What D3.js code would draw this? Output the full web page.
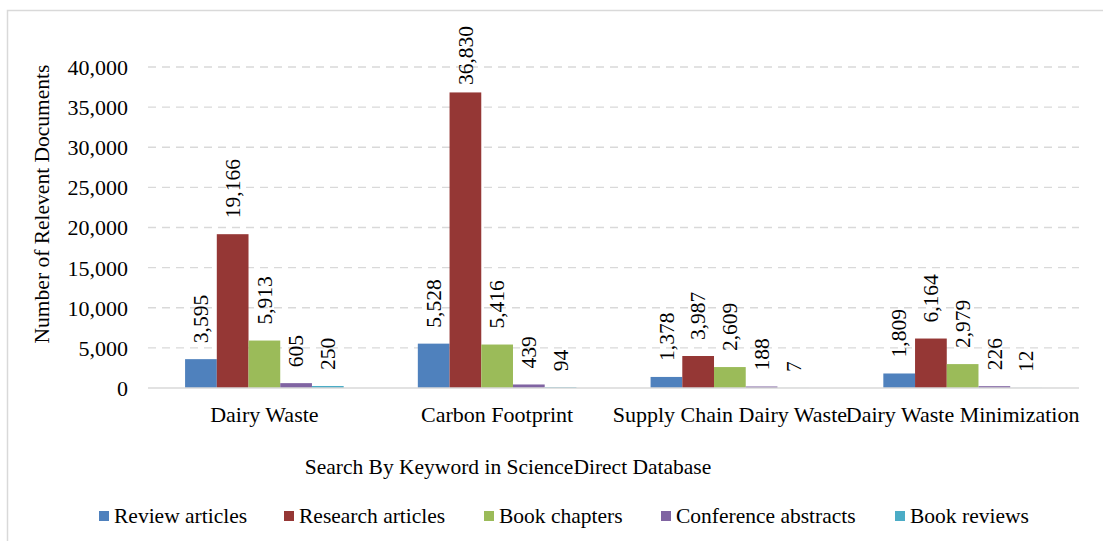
<!DOCTYPE html>
<html>
<head>
<meta charset="utf-8">
<script src="https://cdn.jsdelivr.net/npm/d3@7"></script>
<style>
  html, body { margin: 0; padding: 0; background: #fff; }
  svg text { font-family: "Liberation Serif", "Times New Roman", serif; fill: #000; }
</style>
</head>
<body>
<svg id="chart" width="1103" height="541"></svg>
<script>
// Keyword searches run against ScienceDirect
const categories = ["Dairy Waste", "Carbon Footprint", "Supply Chain Dairy Waste", "Dairy Waste Minimization"];
const seriesNames = ["Review articles", "Research articles", "Book chapters", "Conference abstracts", "Book reviews"];
const seriesColors = ["#4f81bd", "#953735", "#9bbb59", "#8064a2", "#4bacc6"];

// Document counts per category, one array per document type
const reviewArticles = [3595, 5528, 1378, 1809];
const researchArticles = [19166, 36830, 3987, 6164];
const bookChapters = [5913, 5416, 2609, 2979];
const conferenceAbstracts = [605, 439, 188, 226];
const bookReviews = [250, 94, 7, 12];

const yTicks = [0, 5000, 10000, 15000, 20000, 25000, 30000, 35000, 40000];

const seriesValues = [reviewArticles, researchArticles, bookChapters, conferenceAbstracts, bookReviews];

const svg = d3.select("#chart");
const W = 1103, H = 541;
const plot = { left: 148, right: 1079, top: 67, bottom: 388 };
const fontSize = 21.5;
const tickFontSize = 22;

// Outer frame (left and top edges visible)
svg.append("path")
  .attr("d", `M7.5,${H} L7.5,10.5 L${W},10.5`)
  .attr("fill", "none")
  .attr("stroke", "#d9d9d9")
  .attr("stroke-width", 1.5);

const y = d3.scaleLinear().domain([0, 40000]).range([plot.bottom, plot.top]);
const x0 = d3.scaleBand().domain(categories).range([plot.left, plot.right]).padding(0);
const groupWidth = x0.bandwidth() * 0.6814;
const x1 = d3.scaleBand().domain(seriesNames).range([0, groupWidth]).padding(0);
const groupOffset = (x0.bandwidth() - groupWidth) / 2;

const fmt = d3.format(",");

// Dashed gridlines
svg.append("g")
  .selectAll("line")
  .data(yTicks.filter(t => t > 0))
  .join("line")
  .attr("x1", plot.left).attr("x2", plot.right)
  .attr("y1", d => y(d)).attr("y2", d => y(d))
  .attr("stroke", "#d9d9d9")
  .attr("stroke-width", 1.4)
  .attr("stroke-dasharray", "8,6");

// Y axis tick labels
const yAxis = d3.axisLeft(y).tickValues(yTicks).tickFormat(fmt).tickSize(0).tickPadding(0);
const yAxisG = svg.append("g")
  .attr("transform", `translate(128,0)`)
  .call(yAxis);
yAxisG.select(".domain").remove();
yAxisG.selectAll("text")
  .attr("font-family", "Liberation Serif")
  .attr("font-size", tickFontSize)
  .attr("fill", "#000")
  .attr("dy", "0.34em");

// Bars
const groups = svg.append("g")
  .selectAll("g")
  .data(categories)
  .join("g")
  .attr("transform", d => `translate(${x0(d) + groupOffset},0)`);

const barData = (c, ci) => seriesNames.map((s, si) => ({ series: s, si, value: seriesValues[si][ci] }));

groups.each(function(c, ci) {
  const g = d3.select(this);
  const data = barData(c, ci);
  g.selectAll("rect")
    .data(data)
    .join("rect")
    .attr("x", d => x1(d.series))
    .attr("width", x1.bandwidth())
    .attr("y", d => y(d.value))
    .attr("height", d => plot.bottom - y(d.value))
    .attr("fill", d => seriesColors[d.si]);

  // Value labels, rotated, sitting above each bar
  g.selectAll("text")
    .data(data)
    .join("text")
    .attr("transform", d => {
      const cx = x1(d.series) + x1.bandwidth() / 2;
      const cy = Math.max(y(d.value) - 16, 85);
      return `translate(${cx},${cy}) rotate(-90)`;
    })
    .attr("text-anchor", "start")
    .attr("dy", "0.34em")
    .attr("font-size", fontSize)
    .text(d => fmt(d.value));
});

// Baseline
svg.append("line")
  .attr("x1", plot.left).attr("x2", plot.right)
  .attr("y1", plot.bottom).attr("y2", plot.bottom)
  .attr("stroke", "#d9d9d9")
  .attr("stroke-width", 1.5);

// Category labels
svg.append("g")
  .selectAll("text")
  .data(categories)
  .join("text")
  .attr("x", d => x0(d) + x0.bandwidth() / 2)
  .attr("y", 422)
  .attr("text-anchor", "middle")
  .attr("font-size", tickFontSize)
  .text(d => d);

// Axis titles
svg.append("text")
  .attr("x", 508)
  .attr("y", 474)
  .attr("text-anchor", "middle")
  .attr("font-size", fontSize)
  .text("Search By Keyword in ScienceDirect Database");

svg.append("text")
  .attr("transform", "translate(49,204) rotate(-90)")
  .attr("text-anchor", "middle")
  .attr("font-size", fontSize)
  .text("Number of Relevent Documents");

// Legend
const legendX = [99, 284, 484, 661, 895];
const legend = svg.append("g")
  .selectAll("g")
  .data(seriesNames)
  .join("g")
  .attr("transform", (d, i) => `translate(${legendX[i]},516)`);
legend.append("rect")
  .attr("x", 0).attr("y", -5)
  .attr("width", 10).attr("height", 10)
  .attr("fill", (d, i) => seriesColors[i]);
legend.append("text")
  .attr("x", 15)
  .attr("dy", "0.34em")
  .attr("font-size", fontSize)
  .text(d => d);
</script>
</body>
</html>
